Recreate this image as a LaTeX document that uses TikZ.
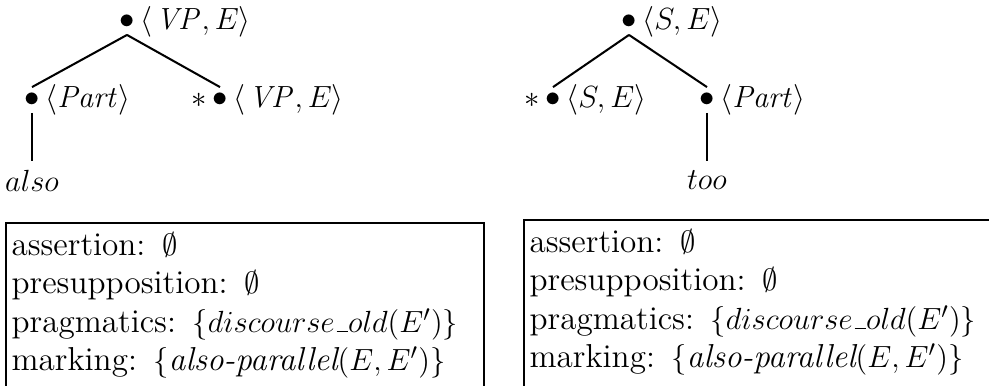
\documentclass[tikz,border=0pt]{standalone}
\usepackage{amsmath, amssymb}
\usepackage{tikz}
\usetikzlibrary{positioning}
\newcommand{\undsc}{\mbox{\kern.06em\vbox{\hrule width.35em}}}

\begin{document}
\begin{tikzpicture}[x=0.392pt, y=0.392pt, font=\large, dot/.style={inner xsep=1.9pt, inner ysep=2.2pt}, lab/.style={inner sep=0pt}, leaf/.style={inner xsep=0pt, inner ysep=3.5pt}, branch/.style={thick}, infobox/.style={draw, thick, anchor=north west, align=left, font=\fontsize{13}{15}\selectfont, text width=182.9pt, text depth=60pt, inner xsep=2.2pt, inner ysep=3.8pt}]
\path[use as bounding box, clip] (0,0) rectangle (989,-385);
% also
\node[dot] (vp) at (127,-22) {$\bullet$};
\node[lab, right=0pt of vp] (vplab) {$\langle\mskip2mu\mathit{VP}, E\rangle$};
\node[dot] (part) at (32,-100) {$\bullet$};
\node[lab, right=0pt of part] (partlab) {$\langle \mathit{Part}\rangle$};
\node[dot] (vpb) at (220,-100) {$\bullet$};
\node[lab, left=0pt of vpb] (vpbstar) {$*$};
\node[lab, right=0pt of vpb] (vpblab) {$\langle\mskip2mu\mathit{VP}, E\rangle$};
\node[leaf, below=18.8pt of part] (also) {$also$};
\draw[branch] (vp.south) -- (part.north); \draw[branch] (vp.south) -- (vpb.north); \draw[branch] (part.south) -- (also.north);
% too
\node[dot] (s) at (629,-22) {$\bullet$};
\node[lab, right=0pt of s] (slab) {$\langle S, E\rangle$};
\node[dot] (sb) at (553,-100) {$\bullet$};
\node[lab, left=0pt of sb] (sbstar) {$*$};
\node[lab, right=0pt of sb] (sblab) {$\langle S, E\rangle$};
\node[dot] (partb) at (707,-100) {$\bullet$};
\node[lab, right=0pt of partb] (partblab) {$\langle \mathit{Part}\rangle$};
\node[leaf, below=18.8pt of partb] (too) {$too$};
\draw[branch] (s.south) -- (sb.north); \draw[branch] (s.south) -- (partb.north); \draw[branch] (partb.south) -- (too.north);
% feature boxes
\node[infobox] (alsobox) at (5,-222) {assertion:\nobreak{} $\emptyset$\\ presupposition:\nobreak{} $\emptyset$\\ pragmatics:\nobreak{} $\{discourse\undsc old(E')\}$\\ marking:\nobreak{} $\{\textit{also-parallel}(E, E')\}$};
\node[infobox] (toobox) at (523,-219) {assertion:\nobreak{} $\emptyset$\\ presupposition:\nobreak{} $\emptyset$\\ pragmatics:\nobreak{} $\{discourse\undsc old(E')\}$\\ marking:\nobreak{} $\{\textit{also-parallel}(E, E')\}$};
\end{tikzpicture}
\end{document}
